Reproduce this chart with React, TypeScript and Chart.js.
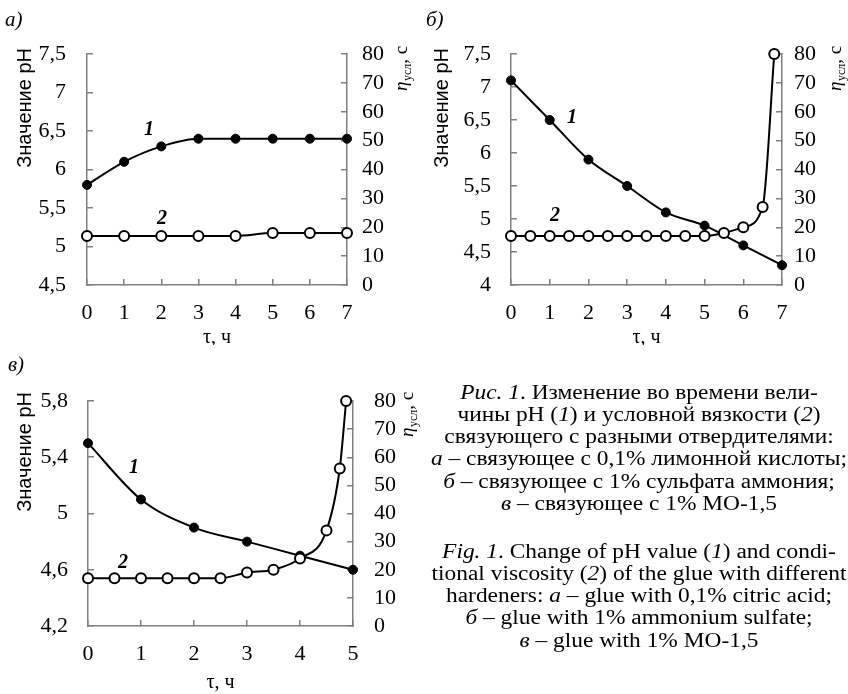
import { useEffect, useRef } from "react";
import { Chart, registerables } from "chart.js";

Chart.register(...registerables);

// ---------------- data ----------------
// panel а
const timeA = [0, 1, 2, 3, 4, 5, 6, 7];
const phA = [5.8, 6.1, 6.3, 6.4, 6.4, 6.4, 6.4, 6.4];
const viscA = [17, 17, 17, 17, 17, 18, 18, 18];

// panel б
const timePhB = [0, 1, 2, 3, 4, 5, 6, 7];
const phB = [7.1, 6.5, 5.9, 5.5, 5.1, 4.9, 4.6, 4.3];
const timeViscB = [0, 0.5, 1, 1.5, 2, 2.5, 3, 3.5, 4, 4.5, 5, 5.5, 6, 6.5, 6.8];
const viscB = [17, 17, 17, 17, 17, 17, 17, 17, 17, 17, 17, 18, 20, 27, 80];

// panel в
const timePhC = [0, 1, 2, 3, 4, 5];
const phC = [5.5, 5.1, 4.9, 4.8, 4.7, 4.6];
const timeViscC = [0, 0.5, 1, 1.5, 2, 2.5, 3, 3.5, 4, 4.5, 4.75, 4.87];
const viscC = [17, 17, 17, 17, 17, 17, 19, 20, 24, 34, 56, 80];

// axis ranges [min, max, step]
const xAxisA = [0, 7, 1];
const xAxisB = [0, 7, 1];
const xAxisC = [0, 5, 1];
const phAxisA = [4.5, 7.5, 0.5];
const phAxisB = [4, 7.5, 0.5];
const phAxisC = [4.2, 5.8, 0.4];
const viscAxis = [0, 80, 10];

// texts
const panelLabels = ["а)", "б)", "в)"];
const leftTitle = "Значение pH";
const xTitle = "τ, ч";
const curveLabels = ["1", "2"];

const captionRu = [
  ["i:Рис. 1", "t:. Изменение во времени вели-"],
  ["t:чины pH (", "i:1", "t:) и условной вязкости (", "i:2", "t:)"],
  ["t:связующего с разными отвердителями:"],
  ["i:а", "t: – связующее с 0,1% лимонной кислоты;"],
  ["i:б", "t: – связующее с 1% сульфата аммония;"],
  ["i:в", "t: – связующее с 1% МО-1,5"],
];
const captionEn = [
  ["i:Fig. 1", "t:. Change of pH value (", "i:1", "t:) and condi-"],
  ["t:tional viscosity (", "i:2", "t:) of the glue with different"],
  ["t:hardeners: ", "i:а", "t: – glue with 0,1% citric acid;"],
  ["i:б", "t: – glue with 1% ammonium sulfate;"],
  ["i:в", "t: – glue with 1% МО-1,5"],
];

// ---------------- layout (page px) ----------------
type PanelCfg = {
  canvas: { x: number; y: number; w: number; h: number };
  plot: { l: number; t: number; r: number; b: number };
  ph: number[];
  phT: number[];
  visc: number[];
  viscT: number[];
  xAxis: number[];
  phAxis: number[];
  panel: string;
  panelPos: [number, number];
  leftTitlePos: [number, number];
  rightTitlePos: [number, number];
  xTitleBaseline: number;
  lab1: [number, number];
  lab2: [number, number];
  leftPad: number;
  rightPad: number;
};

const panels: PanelCfg[] = [
  {
    canvas: { x: 0, y: 0, w: 424, h: 345 },
    plot: { l: 87, t: 54, r: 347, b: 285 },
    ph: phA, phT: timeA, visc: viscA, viscT: timeA,
    xAxis: xAxisA, phAxis: phAxisA,
    panel: panelLabels[0], panelPos: [5, 26],
    leftTitlePos: [25, 48], rightTitlePos: [403, 91],
    xTitleBaseline: 343,
    lab1: [144, 135], lab2: [157, 224],
    leftPad: 27, rightPad: 21,
  },
  {
    canvas: { x: 424, y: 0, w: 424, h: 345 },
    plot: { l: 511, t: 54, r: 782, b: 285 },
    ph: phB, phT: timePhB, visc: viscB, viscT: timeViscB,
    xAxis: xAxisB, phAxis: phAxisB,
    panel: panelLabels[1], panelPos: [426, 26],
    leftTitlePos: [442, 48], rightTitlePos: [837, 91],
    xTitleBaseline: 343,
    lab1: [567, 123], lab2: [550, 221],
    leftPad: 26, rightPad: 18,
  },
  {
    canvas: { x: 0, y: 345, w: 424, h: 349 },
    plot: { l: 88, t: 401, r: 353, b: 626 },
    ph: phC, phT: timePhC, visc: viscC, viscT: timeViscC,
    xAxis: xAxisC, phAxis: phAxisC,
    panel: panelLabels[2], panelPos: [8, 371],
    leftTitlePos: [25, 392], rightTitlePos: [409, 437],
    xTitleBaseline: 688,
    lab1: [129, 473], lab2: [118, 568],
    leftPad: 26, rightPad: 27,
  },
];

const SERIF = '"Liberation Serif", "Times New Roman", serif';
const SANS = '"Liberation Sans", Arial, sans-serif';
const AXIS = "#808080";
const TICK_FONT = 22;

function fmt(v: number) {
  const r = Math.round(v * 10) / 10;
  return String(r).replace(".", ",");
}

function PanelChart({ cfg }: { cfg: PanelCfg }) {
  const ref = useRef<HTMLCanvasElement | null>(null);
  useEffect(() => {
    if (!ref.current) return;
    const c = cfg.canvas;
    const ox = c.x, oy = c.y;
    const decor = {
      id: "decor",
      afterDraw(chart: any) {
        const ctx = chart.ctx as CanvasRenderingContext2D;
        ctx.save();
        ctx.fillStyle = "#000";
        // panel label
        ctx.font = `italic 21px ${SERIF}`;
        ctx.textAlign = "left";
        ctx.textBaseline = "alphabetic";
        ctx.fillText(cfg.panel, cfg.panelPos[0] - ox, cfg.panelPos[1] - oy);
        // left title
        ctx.save();
        ctx.translate(cfg.leftTitlePos[0] - ox, cfg.leftTitlePos[1] - oy);
        ctx.rotate(-Math.PI / 2);
        ctx.font = `20px ${SANS}`;
        ctx.textAlign = "right";
        ctx.textBaseline = "middle";
        ctx.fillText(leftTitle, 0, 0);
        ctx.restore();
        // right title: η_усл, с
        ctx.save();
        ctx.translate(cfg.rightTitlePos[0] - ox, cfg.rightTitlePos[1] - oy);
        ctx.rotate(-Math.PI / 2);
        ctx.textAlign = "left";
        ctx.textBaseline = "alphabetic";
        const base = 4;
        let px = 0;
        ctx.font = `italic 19px ${SERIF}`;
        ctx.fillText("η", px, base);
        px += ctx.measureText("η").width + 0.5;
        ctx.font = `12px ${SERIF}`;
        ctx.fillText("усл", px, base + 4);
        px += ctx.measureText("усл").width;
        ctx.font = `19px ${SERIF}`;
        ctx.fillText(", с", px, base);
        ctx.restore();
        // x title
        const a = chart.chartArea;
        ctx.font = `20px ${SERIF}`;
        ctx.textAlign = "center";
        ctx.textBaseline = "alphabetic";
        ctx.fillText(xTitle, (a.left + a.right) / 2, cfg.xTitleBaseline - oy);
        // curve labels
        ctx.font = `italic bold 20px ${SERIF}`;
        ctx.textAlign = "left";
        ctx.fillText(curveLabels[0], cfg.lab1[0] - ox, cfg.lab1[1] - oy);
        ctx.fillText(curveLabels[1], cfg.lab2[0] - ox, cfg.lab2[1] - oy);
        ctx.restore();
      },
    };

    const tickFont = { family: SERIF, size: TICK_FONT };
    const gridCommon = {
      drawOnChartArea: false,
      drawTicks: true,
      tickLength: -6,
      color: AXIS,
      lineWidth: 1.5,
    };
    const borderCommon = { color: AXIS, width: 1.5 };

    const chart = new Chart(ref.current, {
      type: "line",
      data: {
        datasets: [
          {
            label: "visc",
            data: cfg.viscT.map((t, i) => ({ x: t, y: cfg.visc[i] })),
            yAxisID: "y2",
            borderColor: "#000",
            borderWidth: 2,
            pointRadius: 5,
            pointBorderWidth: 2,
            pointBackgroundColor: "#fff",
            pointBorderColor: "#000",
            cubicInterpolationMode: "monotone",
            clip: false,
          },
          {
            label: "ph",
            data: cfg.phT.map((t, i) => ({ x: t, y: cfg.ph[i] })),
            yAxisID: "y",
            borderColor: "#000",
            borderWidth: 2,
            pointRadius: 4.5,
            pointBorderWidth: 1,
            pointBackgroundColor: "#000",
            pointBorderColor: "#000",
            cubicInterpolationMode: "monotone",
            clip: false,
          },
        ],
      },
      options: {
        responsive: false,
        animation: false,
        events: [],
        layout: { padding: { top: cfg.plot.t - oy, left: 0, right: 0, bottom: 0 } },
        plugins: { legend: { display: false }, tooltip: { enabled: false } },
        scales: {
          x: {
            type: "linear",
            min: cfg.xAxis[0],
            max: cfg.xAxis[1],
            ticks: { stepSize: cfg.xAxis[2], autoSkip: false, font: tickFont, color: "#000", padding: 21, maxRotation: 0 },
            grid: gridCommon,
            border: borderCommon,
            afterFit: (s: any) => { s.height = oy + c.h - cfg.plot.b; },
          },
          y: {
            type: "linear",
            position: "left",
            min: cfg.phAxis[0],
            max: cfg.phAxis[1],
            ticks: { stepSize: cfg.phAxis[2], autoSkip: false, font: tickFont, color: "#000", padding: cfg.leftPad, callback: (v: any) => fmt(Number(v)) },
            grid: gridCommon,
            border: borderCommon,
            afterFit: (s: any) => { s.width = cfg.plot.l - ox; },
          },
          y2: {
            type: "linear",
            position: "right",
            min: viscAxis[0],
            max: viscAxis[1],
            ticks: { stepSize: viscAxis[2], autoSkip: false, font: tickFont, color: "#000", padding: cfg.rightPad },
            grid: gridCommon,
            border: borderCommon,
            afterFit: (s: any) => { s.width = ox + c.w - cfg.plot.r; },
          },
        },
      } as any,
      plugins: [decor],
    });
    return () => chart.destroy();
  }, [cfg]);
  const c = cfg.canvas;
  return (
    <canvas
      ref={ref}
      width={c.w}
      height={c.h}
      style={{ position: "absolute", left: c.x, top: c.y, width: c.w, height: c.h }}
    />
  );
}

function Line({ parts }: { parts: string[] }) {
  return (
    <div style={{ whiteSpace: "nowrap" }}>
      {parts.map((p, i) =>
        p.startsWith("i:") ? <i key={i}>{p.slice(2)}</i> : <span key={i}>{p.slice(2)}</span>
      )}
    </div>
  );
}

export default function App() {
  const capStyle: any = {
    position: "absolute",
    left: 429,
    width: 420,
    textAlign: "center",
    fontFamily: SERIF,
    fontSize: 20,
    lineHeight: "22.3px",
    color: "#000",
    transform: "scaleX(1.17)",
    transformOrigin: "50% 0",
  };
  return (
    <div style={{ position: "absolute", left: 0, top: 0, width: 848, height: 694, background: "#fff", overflow: "hidden" }}>
      {panels.map((p, i) => (
        <PanelChart key={i} cfg={p} />
      ))}
      <div style={{ ...capStyle, top: 380.5 }}>
        {captionRu.map((l, i) => <Line key={i} parts={l} />)}
      </div>
      <div style={{ ...capStyle, top: 539.5 }}>
        {captionEn.map((l, i) => <Line key={i} parts={l} />)}
      </div>
    </div>
  );
}
